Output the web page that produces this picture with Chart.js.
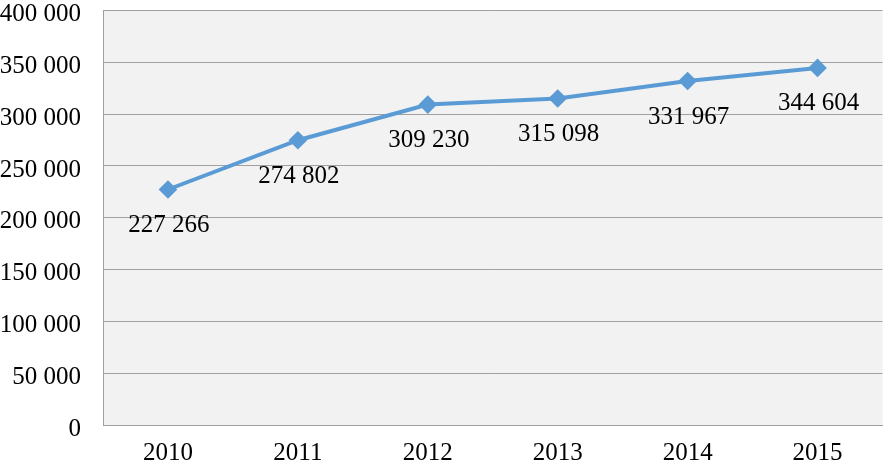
<!DOCTYPE html>
<html lang="ru">
<head>
  <meta charset="UTF-8">
  <title>2010–2015</title>
  <script src="https://cdn.jsdelivr.net/npm/chart.js"></script>
  <style>
    html, body { margin: 0; padding: 0; background: #fff; overflow: hidden; }
    /* a bit wider than the window: Chart.js keeps ~10px on the right, the reference plot runs to the edge */
    .wrap { width: 893px; height: 463px; position: relative; }
  </style>
</head>
<body>
  <div class="wrap">
    <canvas id="lineChart"></canvas>
  </div>
  <script>
    const years = ['2010', '2011', '2012', '2013', '2014', '2015'];
    const values = [227266, 274802, 309230, 315098, 331967, 344604];
    const yMin = 0, yMax = 400000, yStep = 50000;

    // 227266 -> "227 266"
    const fmt = v => String(v).replace(/\B(?=(\d{3})+(?!\d))/g, ' ');

    const serif = "'Liberation Serif', 'Times New Roman', serif";
    const fontSize = 25;

    // gray plot background
    const plotBg = {
      id: 'plotBg',
      beforeDraw(chart) {
        const { ctx, chartArea: a } = chart;
        ctx.save();
        ctx.fillStyle = '#f2f2f2';
        ctx.fillRect(a.left, a.top, a.right - a.left, a.bottom - a.top);
        ctx.restore();
      }
    };

    // value labels under the points
    const valueLabels = {
      id: 'valueLabels',
      afterDatasetsDraw(chart) {
        const { ctx } = chart;
        const meta = chart.getDatasetMeta(0);
        ctx.save();
        ctx.font = fontSize + 'px ' + serif;
        ctx.fillStyle = '#000';
        ctx.textAlign = 'center';
        ctx.textBaseline = 'middle';
        meta.data.forEach((pt, i) => {
          ctx.fillText(fmt(values[i]), pt.x + 1, pt.y + 36);
        });
        ctx.restore();
      }
    };

    new Chart(document.getElementById('lineChart'), {
      type: 'line',
      data: {
        labels: years,
        datasets: [{
          data: values,
          borderColor: '#5b9bd5',
          backgroundColor: '#5b9bd5',
          borderWidth: 4,
          pointStyle: 'rectRot',
          pointRadius: 6.5,
          pointHoverRadius: 6.5,
          tension: 0
        }]
      },
      options: {
        responsive: true,
        maintainAspectRatio: false,
        animation: false,
        layout: { padding: { top: 9, right: 0, left: 0, bottom: 0 } },
        plugins: {
          legend: { display: false },
          tooltip: { enabled: false }
        },
        scales: {
          x: {
            offset: true,
            grid: { display: false, drawTicks: false },
            border: { color: '#a0a0a0', width: 1 },
            ticks: {
              color: '#000',
              font: { family: serif, size: fontSize },
              padding: 13,
              maxRotation: 0
            },
            afterFit(scale) {
              scale.height = 38;
              scale.paddingLeft = 0;
              scale.paddingRight = 0;
            }
          },
          y: {
            min: yMin,
            max: yMax,
            grid: { color: '#a0a0a0', lineWidth: 1, drawTicks: false },
            border: { color: '#a0a0a0', width: 1 },
            ticks: {
              stepSize: yStep,
              color: '#000',
              font: { family: serif, size: fontSize },
              padding: 22,
              labelOffset: 4,
              callback: v => fmt(v)
            },
            afterFit(scale) {
              scale.width = 103;
              scale.paddingTop = 0;
              scale.paddingBottom = 0;
            }
          }
        }
      },
      plugins: [plotBg, valueLabels]
    });
  </script>
</body>
</html>
